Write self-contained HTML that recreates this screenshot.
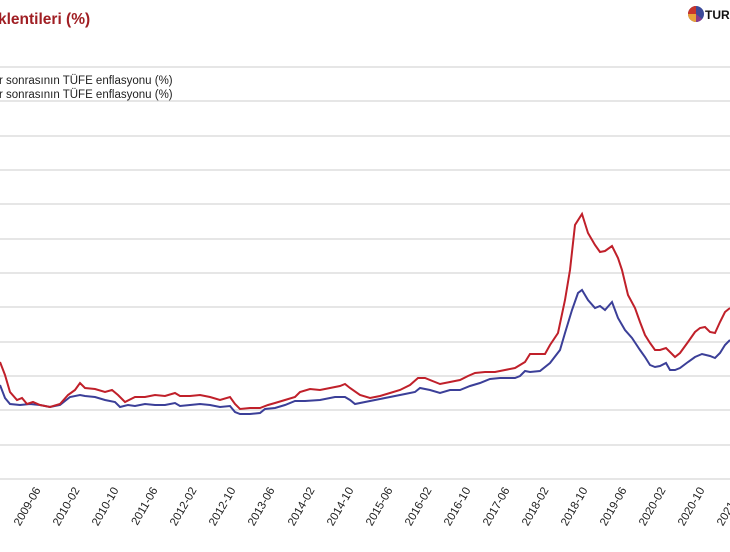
<!DOCTYPE html><html><head><meta charset="utf-8"><style>body{margin:0;background:#fff;width:730px;height:547px;overflow:hidden;font-family:"Liberation Sans",sans-serif}</style></head><body>
<svg width="730" height="547" xmlns="http://www.w3.org/2000/svg" font-family="Liberation Sans, sans-serif">
<text x="-2" y="24" font-size="15.5" font-weight="bold" fill="#a01e23">klentileri (%)</text>
<circle cx="696" cy="14" r="8" fill="#3c4a9a"/><path d="M696 14 L696 6 A8 8 0 0 0 688 14Z" fill="#c8352c"/><path d="M696 14 L688 14 A8 8 0 0 0 696 22Z" fill="#e9a23b"/><path d="M696 14 L696 22 A8 8 0 0 0 702 19Z" fill="#8a3a8a"/>
<text x="705" y="19" font-size="12" font-weight="bold" fill="#111">TURK</text>
<g stroke="#ddd" stroke-width="1.5">
<line x1="0" x2="730" y1="67" y2="67"/><line x1="0" x2="730" y1="101" y2="101"/><line x1="0" x2="730" y1="136" y2="136"/><line x1="0" x2="730" y1="170" y2="170"/><line x1="0" x2="730" y1="204" y2="204"/><line x1="0" x2="730" y1="239" y2="239"/><line x1="0" x2="730" y1="273" y2="273"/><line x1="0" x2="730" y1="307" y2="307"/><line x1="0" x2="730" y1="342" y2="342"/><line x1="0" x2="730" y1="376" y2="376"/><line x1="0" x2="730" y1="410" y2="410"/><line x1="0" x2="730" y1="445" y2="445"/><line x1="0" x2="730" y1="479" y2="479"/>
</g>
<text x="-1" y="84" font-size="11.5" fill="#222">r sonrasının TÜFE enflasyonu (%)</text>
<text x="-1" y="98" font-size="11.5" fill="#222">r sonrasının TÜFE enflasyonu (%)</text>
<polyline fill="none" stroke="#3b3f98" stroke-width="2" points="0,385 5,398 10,404 20,405 30,404 40,405 50,407 60,405 70,397 80,395 85,396 95,397 105,400 115,402 120,407 128,405 135,406 145,404 155,405 165,405 175,403 180,406 190,405 200,404 210,405 220,407 230,406 235,412 240,414 250,414 260,413 265,409 275,408 285,405 295,401 305,401 320,400 335,397 345,397 350,400 355,404 365,402 375,400 385,398 395,396 405,394 415,392 420,388 430,390 440,393 450,390 460,390 470,386 480,383 490,379 500,378 515,378 520,376 525,371 530,372 540,371 550,363 560,350 565,333 572,310 578,293 582,290 588,300 595,308 600,306 605,310 612,302 618,318 625,330 632,338 640,350 645,357 650,365 655,367 660,366 666,363 670,370 675,370 680,368 688,362 695,357 702,354 710,356 715,358 720,353 725,345 730,340"/>
<polyline fill="none" stroke="#c0202a" stroke-width="2" points="0,362 5,375 10,392 17,400 22,398 27,404 33,402 40,405 50,407 60,404 68,395 75,390 80,383 85,388 95,389 105,392 112,390 118,395 125,402 135,397 145,397 155,395 165,396 175,393 180,396 190,396 200,395 210,397 220,400 230,397 235,404 240,409 250,408 260,408 268,405 275,403 285,400 295,397 300,392 310,389 320,390 330,388 340,386 345,384 350,388 360,395 370,398 380,396 390,393 400,390 410,385 418,378 425,378 435,382 440,384 450,382 460,380 468,376 475,373 485,372 495,372 505,370 515,368 525,362 530,354 540,354 545,354 550,345 558,333 565,300 570,270 575,225 582,214 588,233 595,245 600,252 605,251 612,246 618,258 622,270 628,295 635,308 640,322 645,335 650,343 655,350 660,350 666,348 670,352 675,357 680,353 688,342 695,332 700,328 705,327 710,332 715,333 720,322 725,312 730,308"/>
<g font-size="11.5" fill="#222" text-anchor="end">
<text transform="translate(41,490) rotate(-60)">2009-06</text>
<text transform="translate(80,490) rotate(-60)">2010-02</text>
<text transform="translate(119,490) rotate(-60)">2010-10</text>
<text transform="translate(158,490) rotate(-60)">2011-06</text>
<text transform="translate(197,490) rotate(-60)">2012-02</text>
<text transform="translate(236,490) rotate(-60)">2012-10</text>
<text transform="translate(275,490) rotate(-60)">2013-06</text>
<text transform="translate(315,490) rotate(-60)">2014-02</text>
<text transform="translate(354,490) rotate(-60)">2014-10</text>
<text transform="translate(393,490) rotate(-60)">2015-06</text>
<text transform="translate(432,490) rotate(-60)">2016-02</text>
<text transform="translate(471,490) rotate(-60)">2016-10</text>
<text transform="translate(510,490) rotate(-60)">2017-06</text>
<text transform="translate(549,490) rotate(-60)">2018-02</text>
<text transform="translate(588,490) rotate(-60)">2018-10</text>
<text transform="translate(627,490) rotate(-60)">2019-06</text>
<text transform="translate(666,490) rotate(-60)">2020-02</text>
<text transform="translate(705,490) rotate(-60)">2020-10</text>
<text transform="translate(744,490) rotate(-60)">2021-06</text>
</g>
</svg></body></html>
